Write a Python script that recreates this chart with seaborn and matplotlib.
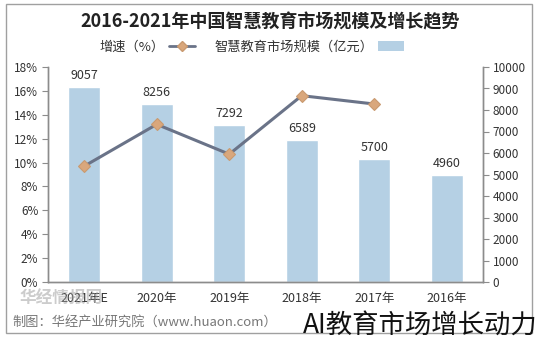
import matplotlib
matplotlib.use("Agg")
import matplotlib.pyplot as plt
from matplotlib.patches import Rectangle
from matplotlib.lines import Line2D
from matplotlib.patches import Patch
from matplotlib.ticker import FuncFormatter, FixedLocator
import seaborn as sns
import pandas as pd
import numpy as np

sns.set_theme(style="white")
plt.rcParams["font.family"] = ["Noto Sans CJK SC", "DejaVu Sans"]

# Market size (100 million yuan) and year-on-year growth (%)
years = ["2016年", "2017年", "2018年", "2019年", "2020年", "2021年E"]
market_size = [4960, 5700, 6589, 7292, 8256, 9057]
growth_pct = [np.nan, 14.9, 15.6, 10.7, 13.2, 9.7]
display_order = years[::-1]

df = pd.DataFrame({"year": years, "size": market_size, "growth": growth_pct})
df["pos"] = [display_order.index(y) for y in df["year"]]

BAR = "#b5d0e4"
LINE = "#6a7388"
MARK = "#d9a77c"
AXC = "#8c8c8c"
TXT = "#333333"

fig = plt.figure(figsize=(5.41, 3.41), dpi=100)
W, H = 541, 341
ax = fig.add_axes([48 / W, 1 - 282 / H, (483 - 48) / W, (282 - 67) / H])

sns.barplot(data=df, x="year", y="size", order=display_order, color=BAR,
            width=0.44, saturation=1, ax=ax, zorder=2)
ax.set_ylim(0, 10000)
ax.set_xlim(-0.5, len(years) - 0.5)
ax.set_yticks(range(0, 10001, 1000))
ax.set_xlabel("")
ax.set_ylabel("")
for c in ax.containers:
    ax.bar_label(c, labels=[f"{v:.0f}" for v in c.datavalues], padding=4,
                 fontsize=9, color=TXT)

# growth line on a twin axis
ax2 = ax.twinx()
line_df = df.dropna(subset=["growth"])
sns.lineplot(data=line_df, x="pos", y="growth", ax=ax2, color=LINE, lw=2.2,
             marker="D", markersize=6.5, markerfacecolor=MARK,
             markeredgecolor="#c99a70", markeredgewidth=0.8, zorder=3)
ax2.set_ylim(0, 18)
ax2.set_xlim(-0.5, len(years) - 0.5)
ax2.set_yticks(range(0, 19, 2))
ax2.yaxis.set_major_formatter(FuncFormatter(lambda v, p: f"{v:.0f}%"))
ax2.set_xlabel("")
ax2.set_ylabel("")

# value scale on the right, percentage scale on the left
ax.yaxis.tick_right()
ax.yaxis.set_label_position("right")
ax2.yaxis.tick_left()
ax2.yaxis.set_label_position("left")

for a in (ax, ax2):
    a.spines["top"].set_visible(False)
    for s in ("left", "right", "bottom"):
        a.spines[s].set_color(AXC)
        a.spines[s].set_linewidth(1.0)
    a.tick_params(axis="y", length=4, width=0.8, color=AXC, labelsize=8.5,
                  labelcolor=TXT, pad=3)
ax.tick_params(axis="x", length=0, labelsize=9, labelcolor=TXT, pad=7)
ax.xaxis.set_minor_locator(FixedLocator(np.arange(-0.5, len(years), 1.0)))
ax.tick_params(axis="x", which="minor", length=4, width=0.8, color=AXC,
               direction="out")
ax2.tick_params(axis="x", bottom=False, labelbottom=False)

# title and legend
fig.text(0.5, 1 - 22 / H, "2016-2021年中国智慧教育市场规模及增长趋势",
         ha="center", va="center", fontsize=13, fontweight="bold", color="#222222")
handles = [
    Line2D([0], [0], color=LINE, lw=2, marker="D", markersize=5,
           markerfacecolor=MARK, markeredgecolor="#c99a70"),
    Patch(facecolor=BAR, edgecolor="none"),
]
fig.legend(handles, ["增速（%）", "智慧教育市场规模（亿元）"], loc="center",
           bbox_to_anchor=(252 / W, 1 - 47 / H), ncol=2, frameon=False,
           fontsize=9.5, markerfirst=False, handlelength=2.0, columnspacing=1.5,
           handletextpad=0.3, labelcolor=TXT)

# source note, watermark and caption
fig.text(12 / W, 1 - 322 / H, "制图：华经产业研究院（www.huaon.com）",
         ha="left", va="center", fontsize=9.5, color="#777777")
fig.text(20 / W, 1 - 299 / H, "华经情报网", ha="left", va="center",
         fontsize=12, fontweight="bold", color="#9a9a9a", alpha=0.5)
fig.text(538 / W, 1 - 325 / H, "AI教育市场增长动力", ha="right", va="center",
         fontsize=19, color="#111111", fontweight="light")

# outer frame
fig.patches.append(Rectangle((6 / W, 1 - 333 / H), 526 / W, 329 / H,
                             transform=fig.transFigure, fill=False,
                             edgecolor="#a0a0a0", lw=1.0, zorder=0))

fig.savefig("out.png", dpi=100)
